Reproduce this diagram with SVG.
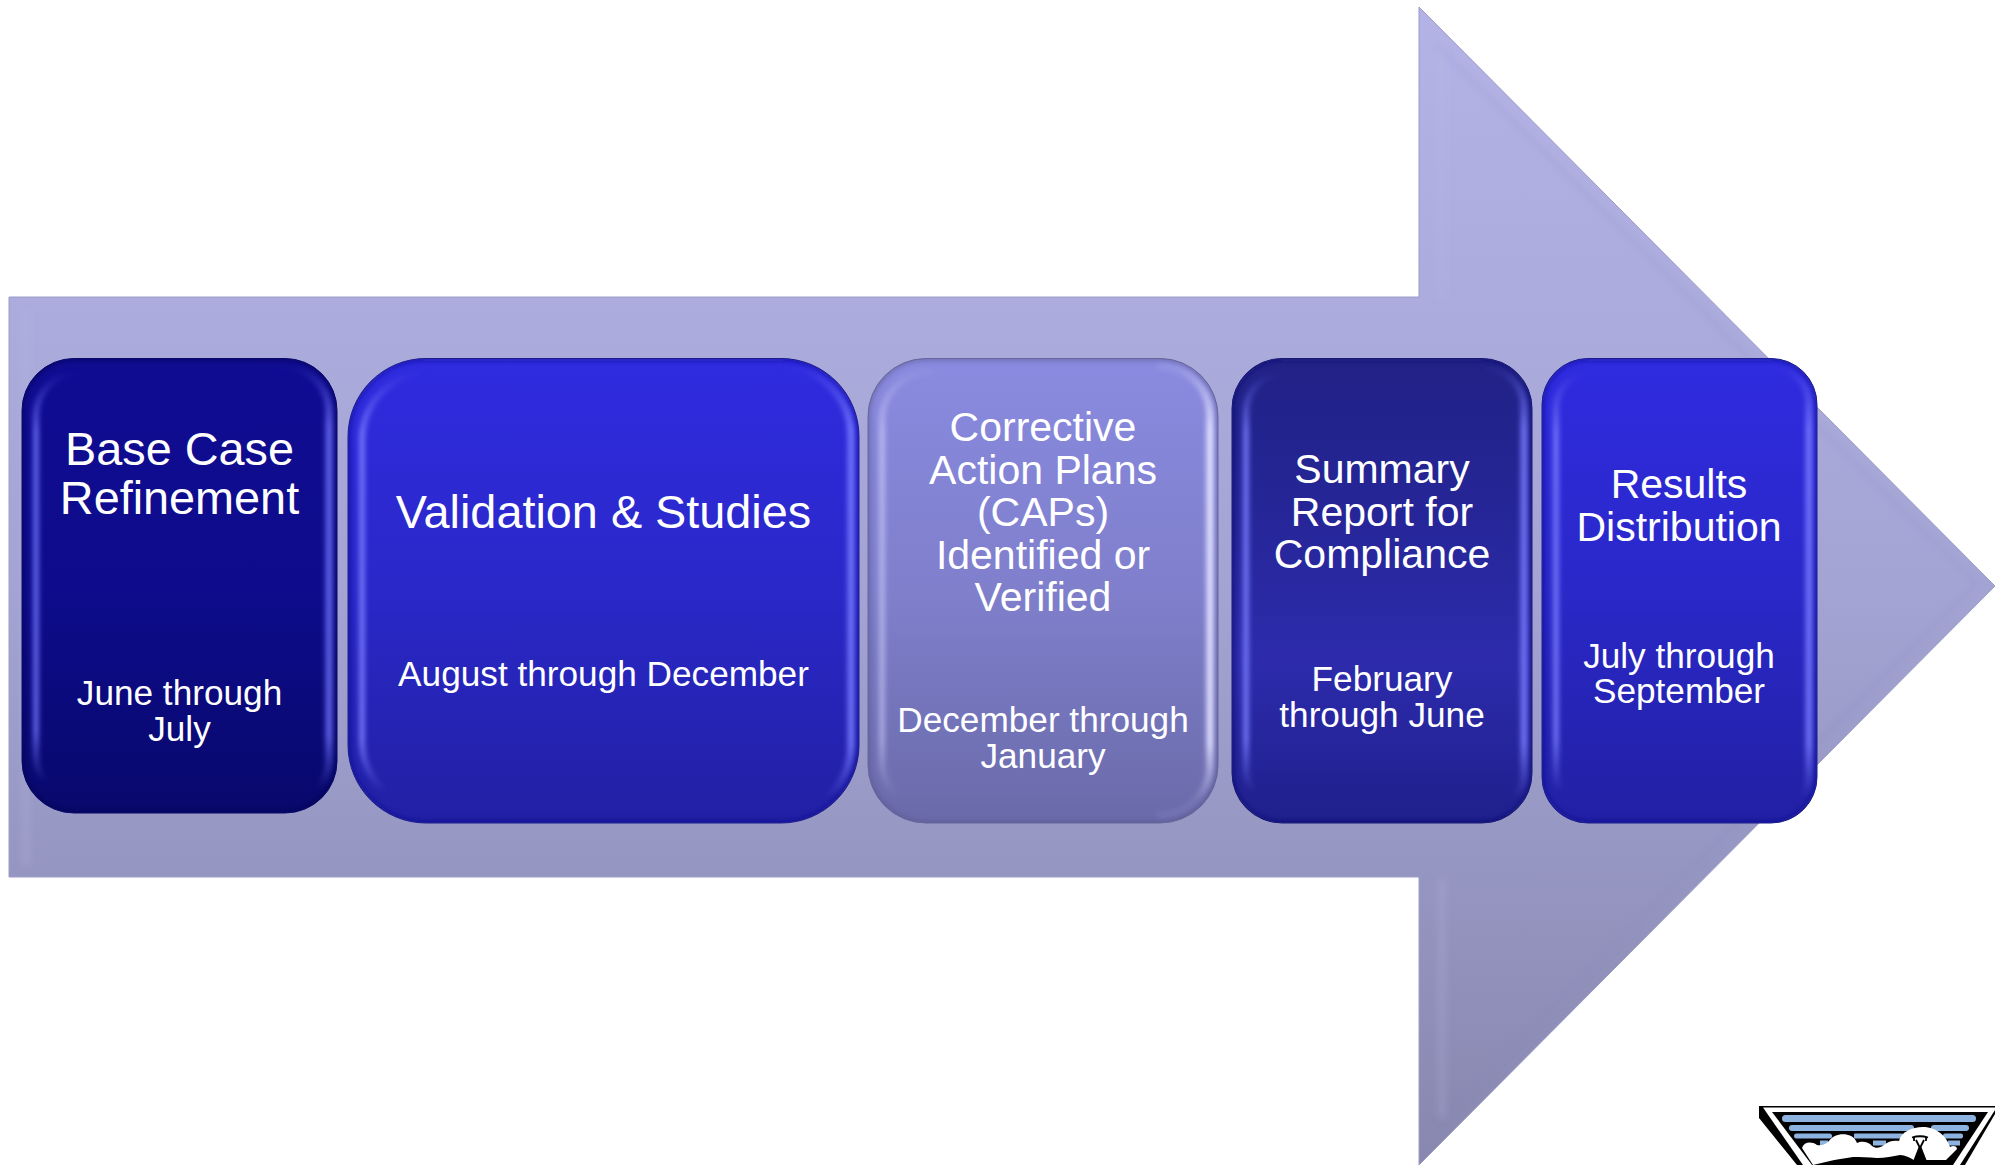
<svg xmlns="http://www.w3.org/2000/svg" width="1995" height="1165" viewBox="0 0 1995 1165">
<style>
text{font-family:"Liberation Sans",Arial,sans-serif;fill:#fff;text-anchor:middle}
.t46{font-size:46.800px}.t41{font-size:41px}.t35{font-size:35.200px}
.hl{fill:none;stroke-width:6;stroke-linecap:round;filter:url(#b3)}
.hr{fill:none;stroke-width:7;stroke-linecap:round;filter:url(#b3)}
.edge{fill:none;stroke-width:4;stroke-opacity:.65;filter:url(#b3)}
.line{fill:none;stroke-width:1}
</style>
<defs>
<linearGradient id="arrowFill" gradientUnits="userSpaceOnUse" x1="0" y1="7" x2="0" y2="1165"><stop offset="0" stop-color="#b3b3e6"/><stop offset=".5" stop-color="#a4a4d4"/><stop offset="1" stop-color="#8787af"/></linearGradient>
<filter id="b3" filterUnits="userSpaceOnUse" x="0" y="0" width="1995" height="1165"><feGaussianBlur stdDeviation="2.400"/></filter>
<filter id="b2" filterUnits="userSpaceOnUse" x="0" y="0" width="1995" height="1165"><feGaussianBlur stdDeviation="3"/></filter>
<linearGradient id="f1" x1="0" y1="0" x2="0" y2="1"><stop offset="0" stop-color="#100c92"/><stop offset=".5" stop-color="#0e0c8c"/><stop offset="1" stop-color="#08086c"/></linearGradient>
<linearGradient id="f2" x1="0" y1="0" x2="0" y2="1"><stop offset="0" stop-color="#2f2be0"/><stop offset=".5" stop-color="#2a28c8"/><stop offset="1" stop-color="#2120a4"/></linearGradient>
<linearGradient id="f3" x1="0" y1="0" x2="0" y2="1"><stop offset="0" stop-color="#8a8ae0"/><stop offset=".5" stop-color="#7f7fcc"/><stop offset="1" stop-color="#6a6aaa"/></linearGradient>
<linearGradient id="f4" x1="0" y1="0" x2="0" y2="1"><stop offset="0" stop-color="#212186"/><stop offset=".3" stop-color="#252596"/><stop offset=".65" stop-color="#2d2bac"/><stop offset="1" stop-color="#1f1f8c"/></linearGradient>
<linearGradient id="h1" x1="0" y1="0" x2="0" y2="1"><stop offset="0" stop-color="#6a6cf4" stop-opacity="0"/><stop offset=".14" stop-color="#6a6cf4" stop-opacity=".85"/><stop offset=".84" stop-color="#6a6cf4" stop-opacity=".85"/><stop offset=".96" stop-color="#6a6cf4" stop-opacity="0"/></linearGradient>
<linearGradient id="h2" x1="0" y1="0" x2="0" y2="1"><stop offset="0" stop-color="#787cff" stop-opacity="0"/><stop offset=".14" stop-color="#787cff" stop-opacity=".85"/><stop offset=".84" stop-color="#787cff" stop-opacity=".85"/><stop offset=".96" stop-color="#787cff" stop-opacity="0"/></linearGradient>
<linearGradient id="h3l" x1="0" y1="0" x2="0" y2="1"><stop offset="0" stop-color="#c8c8f8" stop-opacity=".1"/><stop offset=".14" stop-color="#c8c8f8" stop-opacity=".7"/><stop offset=".84" stop-color="#c8c8f8" stop-opacity=".6"/><stop offset=".97" stop-color="#c8c8f8" stop-opacity="0"/></linearGradient>
<linearGradient id="h3r" x1="0" y1="0" x2="0" y2="1"><stop offset="0" stop-color="#e0e0ff" stop-opacity=".1"/><stop offset=".14" stop-color="#e0e0ff"/><stop offset=".84" stop-color="#dcdcff"/><stop offset=".97" stop-color="#c8c8f4" stop-opacity=".1"/></linearGradient>
<clipPath id="c1"><rect x="22" y="358.500" width="315" height="454.500" rx="52"/></clipPath>
<clipPath id="c2"><rect x="348" y="358.500" width="511" height="464.500" rx="78"/></clipPath>
<clipPath id="c3"><rect x="868" y="358.500" width="350" height="464.500" rx="58"/></clipPath>
<clipPath id="c4"><rect x="1232" y="358.500" width="300" height="464.500" rx="50"/></clipPath>
<clipPath id="c5"><rect x="1542" y="358.500" width="275" height="464.500" rx="46"/></clipPath>
</defs>
<g id="arrow">
<polygon points="9,297 1419,297 1419,7 1995,586 1419,1165 1419,877 9,877" fill="url(#arrowFill)" stroke="#9c9cc8" stroke-width="1"/>
<polyline points="1438,47 1976,584 1438,1122" fill="none" stroke="#8080b8" stroke-opacity=".22" stroke-width="3" filter="url(#b2)"/>
<path d="M1442,50V300M1442,880V1118M26,310V865" fill="none" stroke="#c0c0e8" stroke-opacity=".2" stroke-width="8" filter="url(#b2)"/>
</g>
<g id="node1">
<rect x="22" y="358.500" width="315" height="454.500" rx="52" fill="url(#f1)"/>
<g clip-path="url(#c1)">
<rect class="edge" x="22" y="358.500" width="315" height="454.500" rx="52" stroke="#04044c"/>
<path class="hl" stroke="url(#h1)" d="M80,372A44,44 0 0 0 36,416V755A44,44 0 0 0 80,799"/>
<path class="hr" stroke="url(#h1)" d="M283,366A46,46 0 0 1 329,412V759A46,46 0 0 1 283,805"/>
</g>
<rect class="line" x="22" y="358.500" width="315" height="454.500" rx="52" stroke="#0a0a6a"/>
<text class="t46" x="179.500" y="465">Base Case</text>
<text class="t46" x="179.500" y="514">Refinement</text>
<text class="t35" x="179.500" y="705">June through</text>
<text class="t35" x="179.500" y="741">July</text>
</g>
<g id="node2">
<rect x="348" y="358.500" width="511" height="464.500" rx="78" fill="url(#f2)"/>
<g clip-path="url(#c2)">
<rect class="edge" x="348" y="358.500" width="511" height="464.500" rx="78" stroke="#15158a"/>
<path class="hl" stroke="url(#h2)" d="M430,372A68,68 0 0 0 362,440V741A68,68 0 0 0 430,809"/>
<path class="hr" stroke="url(#h2)" d="M781,366A70,70 0 0 1 851,436V745A70,70 0 0 1 781,815"/>
</g>
<rect class="line" x="348" y="358.500" width="511" height="464.500" rx="78" stroke="#1c1c90"/>
<text class="t46" x="603.500" y="527.500">Validation &amp; Studies</text>
<text class="t35" x="603.500" y="686">August through December</text>
</g>
<g id="node3">
<rect x="868" y="358.500" width="350" height="464.500" rx="58" fill="url(#f3)"/>
<g clip-path="url(#c3)">
<rect class="edge" x="868" y="358.500" width="350" height="464.500" rx="58" stroke="#55558c"/>
<path class="hl" stroke="url(#h3l)" d="M930,372A48,48 0 0 0 882,420V761A48,48 0 0 0 930,809"/>
<path class="hr" stroke="url(#h3r)" d="M1160,366A50,50 0 0 1 1210,416V765A50,50 0 0 1 1160,815"/>
</g>
<rect class="line" x="868" y="358.500" width="350" height="464.500" rx="58" stroke="#66669a"/>
<text class="t41" x="1043" y="441">Corrective</text>
<text class="t41" x="1043" y="484">Action Plans</text>
<text class="t41" x="1043" y="526">(CAPs)</text>
<text class="t41" x="1043" y="569">Identified or</text>
<text class="t41" x="1043" y="611">Verified</text>
<text class="t35" x="1043" y="732">December through</text>
<text class="t35" x="1043" y="768">January</text>
</g>
<g id="node4">
<rect x="1232" y="358.500" width="300" height="464.500" rx="50" fill="url(#f4)"/>
<g clip-path="url(#c4)">
<rect class="edge" x="1232" y="358.500" width="300" height="464.500" rx="50" stroke="#12126a"/>
<path class="hl" stroke="url(#h2)" d="M1286,372A40,40 0 0 0 1246,412V769A40,40 0 0 0 1286,809"/>
<path class="hr" stroke="url(#h2)" d="M1482,366A42,42 0 0 1 1524,408V773A42,42 0 0 1 1482,815"/>
</g>
<rect class="line" x="1232" y="358.500" width="300" height="464.500" rx="50" stroke="#181876"/>
<text class="t41" x="1382" y="482.500">Summary</text>
<text class="t41" x="1382" y="525.500">Report for</text>
<text class="t41" x="1382" y="568">Compliance</text>
<text class="t35" x="1382" y="691">February</text>
<text class="t35" x="1382" y="727">through June</text>
</g>
<g id="node5">
<rect x="1542" y="358.500" width="275" height="464.500" rx="46" fill="url(#f2)"/>
<g clip-path="url(#c5)">
<rect class="edge" x="1542" y="358.500" width="275" height="464.500" rx="46" stroke="#15158a"/>
<path class="hl" stroke="url(#h2)" d="M1592,372A36,36 0 0 0 1556,408V773A36,36 0 0 0 1592,809"/>
<path class="hr" stroke="url(#h2)" d="M1771,366A38,38 0 0 1 1809,404V777A38,38 0 0 1 1771,815"/>
</g>
<rect class="line" x="1542" y="358.500" width="275" height="464.500" rx="46" stroke="#1c1c90"/>
<text class="t41" x="1679" y="498">Results</text>
<text class="t41" x="1679" y="541">Distribution</text>
<text class="t35" x="1679" y="668">July through</text>
<text class="t35" x="1679" y="703">September</text>
</g>
<g id="logo">
<polygon points="1759,1106 1995,1106 1995,1114 1965,1165 1797,1165 1759,1118" fill="#000"/>
<polygon points="1763,1107.500 1995,1107.500 1995,1110 1960,1165 1803,1165" fill="#fff"/>
<polygon points="1772,1112 1988,1112 1953,1165 1812,1165" fill="#000"/>
<g fill="#8db4e0">
<rect x="1782" y="1115" width="194" height="7" rx="3.500"/>
<rect x="1789" y="1125" width="125" height="6" rx="3"/>
<rect x="1931" y="1125" width="38" height="6" rx="3"/>
<rect x="1794" y="1133.500" width="38" height="5" rx="2.500"/>
<rect x="1854" y="1133.500" width="49" height="5" rx="1"/>
<rect x="1943" y="1133.500" width="20" height="5" rx="2"/>
<rect x="1820" y="1140.500" width="8" height="5"/>
<rect x="1873" y="1140.500" width="13" height="5"/>
<rect x="1948" y="1140.500" width="12" height="5"/>
</g>
<path d="M1802,1148C1804,1142 1811,1141 1817,1145C1822,1146 1826,1144 1829,1141C1833,1135 1843,1132 1851,1136C1855,1138 1856,1141 1857,1143C1861,1141 1868,1141 1872,1146C1876,1149 1880,1148 1884,1145C1888,1141 1894,1140 1899,1141C1901,1132 1912,1127 1923,1127C1937,1127 1947,1137 1950,1147C1953,1145 1957,1146 1957,1149L1946,1160H1921L1917,1162C1911,1158 1905,1155 1900,1155C1893,1156 1885,1158 1877,1158C1868,1157 1860,1157 1853,1157C1845,1158 1835,1160 1830,1161L1813,1165Z" fill="#fff"/>
<path d="M1912,1137.500Q1920,1135 1928,1137.500M1914,1137V1141M1926,1137V1141M1916,1140L1920,1148L1924,1140" fill="none" stroke="#000" stroke-width="1.800"/>
<polygon points="1919,1146 1921,1146 1928,1164 1912,1164" fill="#000"/>
</g>
</svg>
